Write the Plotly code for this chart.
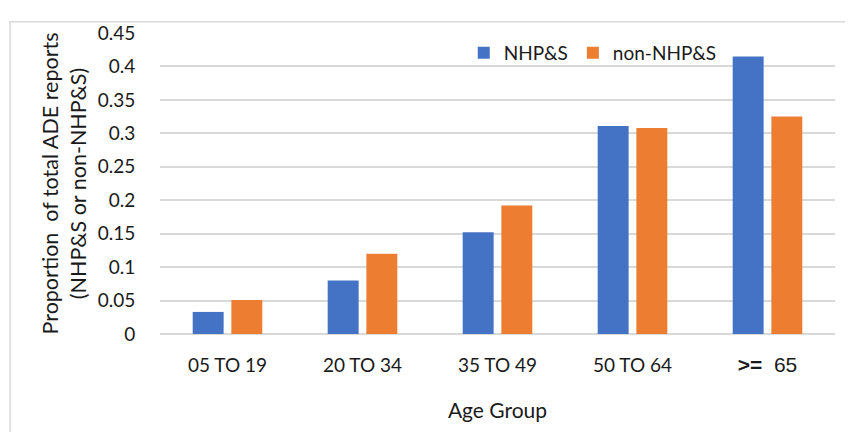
import plotly.graph_objects as go

categories = ["05 TO 19", "20 TO 34", "35 TO 49", "50 TO 64", ">= 65"]
tick_labels = ["05 TO 19", "20 TO 34", "35 TO 49", "50 TO 64",
               "<span style=\"font-family:Liberation Sans;font-size:21px\"><b>&gt;=</b>  65</span>"]
nhps = [0.033, 0.080, 0.152, 0.311, 0.415]
non_nhps = [0.051, 0.120, 0.192, 0.308, 0.325]
y_ticks = [0, 0.05, 0.1, 0.15, 0.2, 0.25, 0.3, 0.35, 0.4, 0.45]
y_tick_labels = ["0", "0.05", "0.1", "0.15", "0.2", "0.25", "0.3", "0.35", "0.4", "0.45"]

BLUE = "#4472C4"
ORANGE = "#ED7D31"
GRID = "#d9d9d9"
TXT = "#1a1a1a"
FONT = "Lato"

fig = go.Figure()
fig.add_trace(go.Bar(name="NHP&S", x=categories, y=nhps, marker=dict(color=BLUE, line=dict(width=0))))
fig.add_trace(go.Bar(name="non-NHP&S", x=categories, y=non_nhps, marker=dict(color=ORANGE, line=dict(width=0))))

fig.update_layout(
    width=845, height=424,
    margin=dict(l=152, r=18, t=25, b=98),
    paper_bgcolor="white", plot_bgcolor="white",
    barmode="group", bargap=0.427, bargroupgap=0.2,
    font=dict(family=FONT, size=19, color=TXT),
    showlegend=True,
    legend=dict(orientation="h", x=0.45, xanchor="left", y=0.934, yanchor="middle",
                font=dict(family=FONT, size=19, color=TXT), bgcolor="rgba(0,0,0,0)",
                traceorder="normal"),
    xaxis=dict(
        tickmode="array", tickvals=categories, ticktext=tick_labels,
        ticks="outside", ticklen=14, tickcolor="rgba(0,0,0,0)",
        showgrid=False, showline=False, zeroline=False,
        tickfont=dict(family=FONT, size=19, color=TXT),
        title=dict(text="Age Group", font=dict(family=FONT, size=21, color=TXT), standoff=28),
        automargin=False,
    ),
    yaxis=dict(
        range=[0, 0.45], tickmode="array", tickvals=y_ticks, ticktext=y_tick_labels,
        ticks="outside", ticklen=20, tickcolor="rgba(0,0,0,0)",
        showgrid=True, gridcolor=GRID, gridwidth=1.5,
        zeroline=True, zerolinecolor=GRID, zerolinewidth=1.5, showline=False,
        tickfont=dict(family=FONT, size=19, color=TXT),
        title=dict(text="Proportion  of total ADE reports<br>(NHP&S or non-NHP&S)",
                   font=dict(family=FONT, size=21.5, color=TXT), standoff=5),
        automargin=False,
    ),
    shapes=[dict(type="rect", xref="paper", yref="paper",
                 x0=-0.2222, x1=1.04, y0=-0.36, y1=1.037,
                 line=dict(color=GRID, width=1.5), fillcolor="rgba(0,0,0,0)", layer="below")],
)

fig.write_html("out.html")
